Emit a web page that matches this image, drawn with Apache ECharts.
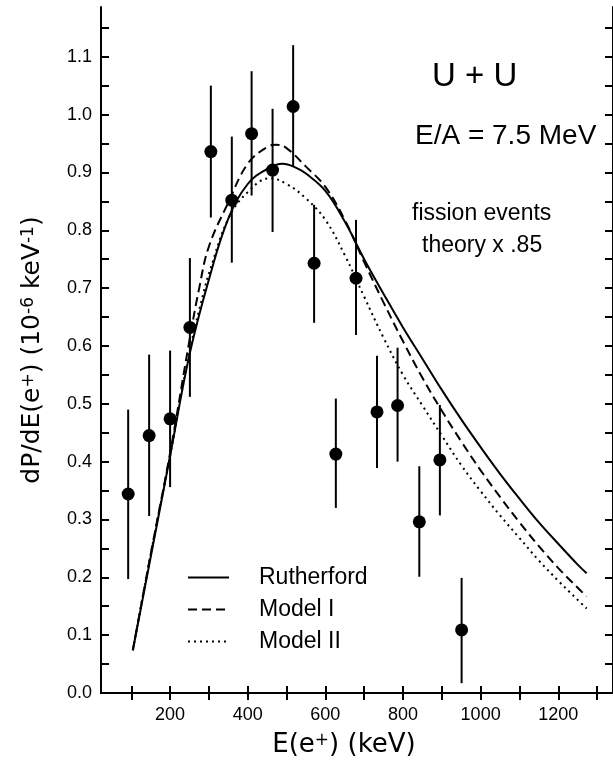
<!DOCTYPE html>
<html><head><meta charset="utf-8">
<script src="https://cdn.jsdelivr.net/npm/echarts@6/dist/echarts.min.js"></script>
<style>html,body{margin:0;padding:0;background:#fff}#c{width:613px;height:761px}</style>
</head><body><div id="c"></div><script>
// ---- data ----
const energy  = [92,146,200,251,305,359,410,464,517,571,627,679,733,786,842,895,951];
const yields  = [0.344,0.445,0.474,0.632,0.936,0.852,0.967,0.904,1.014,0.743,0.413,0.717,0.486,0.497,0.296,0.403,0.109];
const errLow  = [0.197,0.306,0.356,0.512,0.822,0.744,0.860,0.797,0.910,0.640,0.320,0.619,0.389,0.400,0.201,0.307,0.017];
const errHigh = [0.490,0.585,0.592,0.752,1.050,0.962,1.075,1.010,1.120,0.844,0.509,0.818,0.583,0.597,0.392,0.498,0.199];

const rutherfordE = [104,150,200,250,300,350,400,450,490,525,550,600,650,700,750,800,850,900,950,1000,1050,1100,1150,1200,1250,1273];
const rutherfordY = [0.074,0.235,0.410,0.585,0.715,0.820,0.880,0.906,0.915,0.908,0.898,0.868,0.815,0.750,0.690,0.632,0.578,0.524,0.473,0.425,0.379,0.336,0.295,0.258,0.222,0.207];

const model1E = [104,150,200,250,275,300,350,400,450,473,500,550,600,650,700,750,800,850,900,950,1000,1050,1100,1150,1200,1250,1273];
const model1Y = [0.074,0.240,0.415,0.610,0.700,0.772,0.848,0.915,0.944,0.948,0.942,0.910,0.875,0.818,0.745,0.675,0.608,0.545,0.488,0.435,0.385,0.339,0.295,0.254,0.216,0.182,0.167];

const model2E = [104,150,200,250,288,300,350,400,457,500,550,600,650,700,750,800,850,900,950,1000,1050,1100,1150,1200,1250,1273];
const model2Y = [0.074,0.240,0.410,0.590,0.697,0.725,0.820,0.866,0.890,0.880,0.855,0.818,0.757,0.685,0.614,0.550,0.497,0.445,0.394,0.349,0.307,0.268,0.229,0.194,0.161,0.146];

const xTickValues  = [100,200,300,400,500,600,700,800,900,1000,1100,1200,1300];
const xTickLabels  = [200,400,600,800,1000,1200];
const yTickValues  = [0,0.05,0.1,0.15,0.2,0.25,0.3,0.35,0.4,0.45,0.5,0.55,0.6,0.65,0.7,0.75,0.8,0.85,0.9,0.95,1.0,1.05,1.1,1.15];
const yTickLabels  = [0,0.1,0.2,0.3,0.4,0.5,0.6,0.7,0.8,0.9,1.0,1.1];

const seriesNames = ['Rutherford','Model I','Model II'];

// ---- chart ----
const F = 'Liberation Sans, Arial, sans-serif';
const FD = 'DejaVu Sans, sans-serif';
const chart = echarts.init(document.getElementById('c'), null, {renderer:'canvas'});
const axisLine = {show:true, lineStyle:{color:'#000', width:2}};
function xAxisDef(pos, labels){
  return {type:'value', position:pos, min:22, max:1341,
    axisLine: axisLine, splitLine:{show:false},
    axisTick:{show:true, inside:true, length:7, customValues:xTickValues, lineStyle:{color:'#000', width:2}},
    axisLabel:{show:labels, customValues:xTickLabels, color:'#000', fontFamily:F, fontSize:18, margin:13,
      formatter:v=>String(v)}};
}
function yAxisDef(pos, labels){
  const a = {type:'value', position:pos, min:0, max:1.186,
    axisLine: axisLine, splitLine:{show:false},
    axisTick:{show:true, inside:true, length:8, customValues:yTickValues, lineStyle:{color:'#000', width:2}},
    axisLabel:{show:labels, customValues:yTickLabels, color:'#000', fontFamily:F, fontSize:18, margin:9,
      formatter:v=>v.toFixed(1)}};
  if (labels) {
    a.name = 'dP/dE(e{s|+}) (10{s|-6} keV{s|-1})';
    a.nameLocation = 'middle';
    a.nameRotate = 90;
    a.nameGap = 56;
    a.nameTextStyle = {color:'#000', fontFamily:FD, fontSize:25,
      rich:{s:{fontSize:17, verticalAlign:'top', fontFamily:FD, color:'#000'}}};
  }
  return a;
}
function curve(name, xs, ys, type){
  return {name:name, type:'line', xAxisIndex:0, yAxisIndex:0, smooth:0.4, symbol:'none',
    data: xs.map((x,i)=>[x, ys[i]]),
    lineStyle:{color:'#000', width:2, type:type}, itemStyle:{color:'#000'}, z:2};
}
const option = {
  animation:false,
  backgroundColor:'#fff',
  grid:{left:101, right:0, top:7, bottom:68, containLabel:false},
  xAxis:[xAxisDef('bottom', true), xAxisDef('top', false)],
  yAxis:[yAxisDef('left', true), yAxisDef('right', false)],
  legend:{data:seriesNames, orient:'vertical', left:187, top:566, padding:0, itemGap:9,
    itemWidth:41, itemHeight:14, itemStyle:{opacity:0},
    textStyle:{color:'#000', fontFamily:F, fontSize:23, padding:[0,0,0,25]}},
  graphic:[
    {type:'text', left:432, top:60, style:{text:'U + U', font:'33px '+F, fill:'#000'}},
    {type:'text', left:415, top:122, style:{text:'E/A = 7.5 MeV', font:'28px '+F, fill:'#000'}},
    {type:'text', left:412, top:202, style:{text:'fission events', font:'23px '+F, fill:'#000'}},
    {type:'text', left:422, top:234, style:{text:'theory x .85', font:'23px '+F, fill:'#000'}},
    {type:'text', x:344, y:745, style:{text:'E(e{s|+}) (keV)', fontFamily:FD, fontSize:26, fill:'#000',
      align:'center', verticalAlign:'middle',
      rich:{s:{fontSize:17, verticalAlign:'top', fontFamily:FD, fill:'#000'}}}}
  ],
  series:[
    curve(seriesNames[0], rutherfordE, rutherfordY, 'solid'),
    curve(seriesNames[1], model1E, model1Y, [9,5]),
    curve(seriesNames[2], model2E, model2Y, [2,4]),
    {type:'custom', name:'errors', z:3,
      data: energy.map((e,i)=>[e, errLow[i], errHigh[i]]),
      encode:{x:0, y:[1,2]},
      renderItem:function(params, api){
        const x = api.value(0);
        const p1 = api.coord([x, api.value(1)]);
        const p2 = api.coord([x, api.value(2)]);
        return {type:'line', shape:{x1:p1[0], y1:p1[1], x2:p2[0], y2:p2[1]},
          style:{stroke:'#000', lineWidth:2}};
      }},
    {type:'scatter', name:'data', z:4, symbol:'circle', symbolSize:13,
      data: energy.map((e,i)=>[e, yields[i]]), itemStyle:{color:'#000', opacity:1}}
  ]
};
chart.setOption(option);
</script></body></html>
